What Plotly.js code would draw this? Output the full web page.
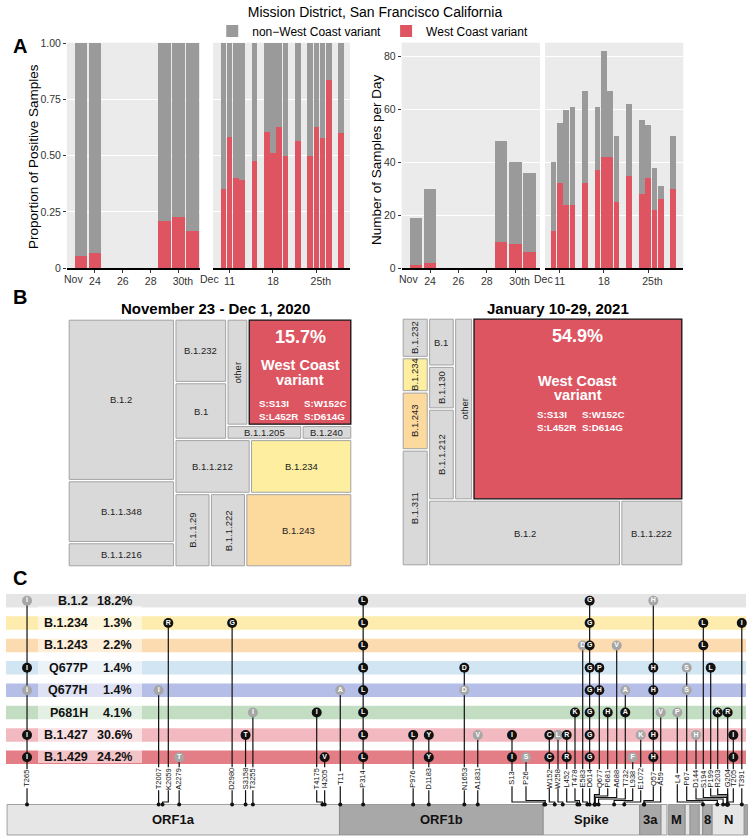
<!DOCTYPE html>
<html>
<head>
<meta charset="utf-8">
<script src="https://cdn.plot.ly/plotly-3.0.1.min.js"></script>
<style>
  body { margin: 0; background: #fff; }
  #div_plot { width: 750px; height: 838px; }
</style>
</head>
<body>
<div id="div_plot"></div>
<script>
// ---------------- panel A : samples per day ----------------
var sampleDates = ['2020-11-23','2020-11-24','2020-11-29','2020-11-30','2020-12-01',
                   '2020-12-10','2020-12-11','2020-12-12','2020-12-13','2020-12-15',
                   '2020-12-17','2020-12-18','2020-12-19','2020-12-20','2020-12-22',
                   '2020-12-24','2020-12-25','2020-12-26','2020-12-27','2020-12-29'];
var samplesTotal = [19, 30, 48, 40, 36, 40, 55, 60, 61, 67, 61, 82, 67, 50, 62, 56, 54, 38, 31, 50];
var samplesWC    = [ 1,  2, 10,  9,  6, 14, 32, 24, 24, 32, 37, 42, 42, 25, 35, 28, 34, 22, 26, 30];

// ---------------- panel B : lineage shares (%) ----------------
var novLineages = ['B.1.2','B.1.1.348','B.1.1.216','B.1.232','B.1','other','West Coast',
                   'B.1.1.205','B.1.240','B.1.1.212','B.1.234','B.1.1.29','B.1.1.222','B.1.243'];
var novPct      = [24.5, 9.4, 3.7, 4.7, 4.2, 3.2, 15.7, 1.5, 1.0, 5.8, 7.8, 3.7, 3.7, 11.1];
var janLineages = ['B.1.232','B.1.234','B.1.243','B.1.311','B.1','B.1.130','B.1.1.212',
                   'other','West Coast','B.1.2','B.1.1.222'];
var janPct      = [1.5, 1.3, 2.2, 4.4, 1.8, 1.6, 3.4, 4.8, 54.9, 18.2, 5.9];
var wcMutations = ['S:S13I','S:W152C','S:L452R','S:D614G'];

// ---------------- panel C : mutations per variant ----------------
var variantRows = ['B.1.2','B.1.234','B.1.243','Q677P','Q677H','P681H','B.1.427','B.1.429'];
var variantPct  = [18.2, 1.3, 2.2, 1.4, 1.4, 4.1, 30.6, 24.2];
var geneNames  = ['ORF1a','ORF1b','Spike','3a','E','M','6','7a','7b','8','N','10'];
var geneLabels = ['ORF1a','ORF1b','Spike','3a','','M','','','','8','N',''];
var geneStart  = [266, 13468, 21563, 25393, 26245, 26523, 27202, 27394, 27756, 27894, 28274, 29558];
var geneEnd    = [13467, 21555, 25384, 26220, 26472, 27191, 27387, 27759, 27887, 28259, 29533, 29674];
var mutGene = ['ORF1a','ORF1a','ORF1a','ORF1a','ORF1a','ORF1a','ORF1a','ORF1a','ORF1a',
               'ORF1b','ORF1b','ORF1b','ORF1b','ORF1b','ORF1b',
               'Spike','Spike','Spike','Spike','Spike','Spike','Spike','Spike','Spike','Spike','Spike','Spike','Spike','Spike',
               '3a','3a','8','N','N','N','N','N','N','N','N'];
var mutSite = ['T265','T2007','K2059','A2279','D2980','S3158','T3255','T4175','I4205',
               'T11','P314','P976','D1183','N1653','A1831',
               'S13','P26','W152','W258','L452','T478','E583','D614','Q677','P681','A688','T732','L938','E1072',
               'Q57','A59','L4','P67','D144','S194','P199','R203','G204','T205','T391'];
// one char per variant row: upper case = black call, lower case = grey call, '.' = none
var mutCalls = ['i..Ii.II','....i...','.R......','.......t','.G......','......T.','.....i..','.....I..','.......V',
                '....a...','LLLLLLLL','......L.','......YY','...Dd...','......v.',
                '......II','.......s','......CC','......l.','......RR','.....K..','..d.....','GGGGGGGG','...PH...',
                '.....H..','..v.....','....aA..','.......f','......k.',
                'h..HH.HH','.....v..','.....p..','...ss...','......h.','.LL.....','...L....','.....K..','.....R..',
                '......II','.I......'];
// genome coordinate where the label column sits (null = same as the site)
var mutLabelAt = [null,null,6670,null,null,null,null,12563,null,
                  null,null,null,null,null,null,
                  20319,20875,21801,22146,22492,22821,23127,null,23786,24120,24477,24819,25113,25431,
                  25931,26225,26884,27257,27627,27917,28210,28488,null,29108,null];

// ---------------- helpers ----------------
var W = 750, H = 838;
var FONT = 'Liberation Sans, Arial, sans-serif';
var NARROW = 'Liberation Sans Narrow, Arial Narrow, Liberation Sans, sans-serif';
var RED = '#df5461', GREY = '#9a9a9a';
var DAY = 86400000;
function px(x){ return x / W; }
function py(y){ return 1 - y / H; }

var traces = [];
var shapes = [];
var annotations = [];

function ann(text, x, y, opt){
   var a = {text: text, x: x, y: y, xref: 'paper', yref: 'paper', showarrow: false,
            xanchor: 'center', yanchor: 'middle',
            font: {family: FONT, size: 12, color: '#000'}};
   for (var k in opt) a[k] = opt[k];
   return a;
}

// ---------------- panel A ----------------
function facetIdx(f){
   var out = [];
   sampleDates.forEach(function(d, i){ if ((d < '2020-12-05') === (f === 1)) out.push(i); });
   return out;
}
function sel(arr, idx){ return idx.map(function(i){ return arr[i]; }); }

var propWC = samplesWC.map(function(v, i){ return v / samplesTotal[i]; });
var propOther = propWC.map(function(v){ return 1 - v; });
var countOther = samplesTotal.map(function(v, i){ return v - samplesWC[i]; });

function addBars(xa, ya, idx, redVals, greyVals, first){
   var x = sel(sampleDates, idx);
   traces.push({type: 'bar', x: x, y: sel(redVals, idx), xaxis: xa, yaxis: ya, width: 0.9 * DAY,
      marker: {color: RED, line: {width: 0}}, name: 'West Coast variant', legendrank: 2,
      showlegend: first, hovertemplate: '%{x|%b %d}: %{y}<extra>West Coast</extra>'});
   traces.push({type: 'bar', x: x, y: sel(greyVals, idx), xaxis: xa, yaxis: ya, width: 0.9 * DAY,
      marker: {color: GREY, line: {width: 0}}, name: 'non\u2212West Coast variant', legendrank: 1,
      showlegend: first, hovertemplate: '%{x|%b %d}: %{y}<extra>other</extra>'});
}
addBars('x', 'y', facetIdx(1), propWC, propOther, true);
addBars('x2', 'y', facetIdx(2), propWC, propOther, false);
addBars('x3', 'y2', facetIdx(1), samplesWC, countOther, false);
addBars('x4', 'y2', facetIdx(2), samplesWC, countOther, false);

[['x','y'],['x2','y'],['x3','y2'],['x4','y2']].forEach(function(p){
   shapes.push({type: 'rect', xref: p[0] + ' domain', yref: p[1] + ' domain', x0: 0, x1: 1, y0: 0, y1: 1,
                fillcolor: '#ebebeb', line: {width: 0}, layer: 'below'});
});

var tickFont = {family: FONT, size: 10.5, color: '#333'};
function dateAxis(dom, anchor, range, vals, text){
   return {domain: dom, anchor: anchor, type: 'date', range: range, tickvals: vals, ticktext: text,
           ticks: 'outside', ticklen: 3, tickcolor: '#333', showline: true, linecolor: '#000',
           linewidth: 1.5, showgrid: false, zeroline: false, tickfont: tickFont, fixedrange: true};
}
var novTicks = ['2020-11-24','2020-11-26','2020-11-28','2020-11-30'];
var novText = ['24','26','28','\u00a0\u00a0\u00a030th'];
var decTicks = ['2020-12-11','2020-12-18','2020-12-25'];
var decText = ['11','18','\u00a0\u00a0\u00a025th'];

annotations.push(ann('Nov', px(73), py(279), {font: tickFont}));
annotations.push(ann('Dec', px(209), py(279), {font: tickFont}));
annotations.push(ann('Nov', px(408), py(279), {font: tickFont}));
annotations.push(ann('Dec', px(543), py(279), {font: tickFont}));
annotations.push(ann('Proportion of Positive Samples', px(33), py(157), {textangle: -90, font: {family: FONT, size: 13.5, color: '#000'}}));
annotations.push(ann('Number of Samples per Day', px(377), py(160), {textangle: -90, font: {family: FONT, size: 13.5, color: '#000'}}));
annotations.push(ann('<b>A</b>', px(20), py(46), {font: {family: FONT, size: 20, color: '#000'}}));
annotations.push(ann('<b>B</b>', px(20), py(297), {font: {family: FONT, size: 20, color: '#000'}}));
annotations.push(ann('<b>C</b>', px(20), py(578), {font: {family: FONT, size: 20, color: '#000'}}));

// ---------------- panel B ----------------
function total(node, vals){
   if (typeof node === 'string') return vals[node];
   return node.reduce(function(a, c){ return a + total(c, vals); }, 0);
}
function sliceDice(node, vals, x0, y0, x1, y1, depth, out){
   if (typeof node === 'string'){ out.push({name: node, x0: x0, y0: y0, x1: x1, y1: y1}); return; }
   var sums = node.map(function(c){ return total(c, vals); });
   var sum = sums.reduce(function(a, b){ return a + b; }, 0);
   var pos = depth % 2 === 0 ? x0 : y0;
   node.forEach(function(c, i){
      var f = sums[i] / sum;
      if (depth % 2 === 0){ var w = (x1 - x0) * f; sliceDice(c, vals, pos, y0, pos + w, y1, depth + 1, out); pos += w; }
      else { var h = (y1 - y0) * f; sliceDice(c, vals, x0, pos, x1, pos + h, depth + 1, out); pos += h; }
   });
}
function cellColor(name){
   if (name === 'West Coast') return '#dc5561';
   if (name === 'B.1.234') return '#fdef9f';
   if (name === 'B.1.243') return '#fcd99d';
   return '#d9d9d9';
}

function drawTreemap(names, pcts, tree, xa, ya, boxW, boxH, titleShift, mutShift){
   var vals = {};
   names.forEach(function(n, i){ vals[n] = pcts[i]; });
   var cells = [];
   sliceDice(tree, vals, 0, 0, 1, 1, 0, cells);
   var gx = 1.2 / boxW, gy = 1.2 / boxH;
   var hx = [], hy = [], ht = [];
   cells.forEach(function(c){
      var wc = c.name === 'West Coast';
      shapes.push({type: 'rect', xref: xa, yref: ya, x0: c.x0 + gx, x1: c.x1 - gx, y0: c.y0 + gy, y1: c.y1 - gy,
                   fillcolor: cellColor(c.name), line: {color: wc ? '#111' : '#a3a3a3', width: wc ? 1.3 : 1}});
      var cx = (c.x0 + c.x1) / 2, cyy = (c.y0 + c.y1) / 2;
      hx.push(cx); hy.push(cyy); ht.push(c.name + ': ' + vals[c.name] + '%');
      var base = {xref: xa, yref: ya, showarrow: false, xanchor: 'center', yanchor: 'middle'};
      if (wc){
         var white = function(size){ return {family: FONT, size: size, color: '#fff'}; };
         annotations.push(Object.assign({}, base, {x: cx, y: c.y0, yshift: -18, text: '<b>' + vals[c.name].toFixed(1) + '%</b>', font: white(18)}));
         annotations.push(Object.assign({}, base, {x: cx, y: cyy, yshift: titleShift + 7, text: '<b>West Coast</b>', font: white(14.5), borderpad: 0}));
         annotations.push(Object.assign({}, base, {x: cx, y: cyy, yshift: titleShift - 7.5, text: '<b>variant</b>', font: white(14.5), borderpad: 0}));
         annotations.push(Object.assign({}, base, {x: cx, y: cyy, yshift: mutShift, xshift: -43, xanchor: 'left', align: 'left',
            text: '<b>' + wcMutations[0] + '<br>' + wcMutations[2] + '</b>', font: white(9.8)}));
         annotations.push(Object.assign({}, base, {x: cx, y: cyy, yshift: mutShift, xshift: 2, xanchor: 'left', align: 'left',
            text: '<b>' + wcMutations[1] + '<br>' + wcMutations[3] + '</b>', font: white(9.8)}));
      } else {
         var wpx = (c.x1 - c.x0) * boxW, hpx = (c.y1 - c.y0) * boxH;
         var rot = wpx < c.name.length * 4.3 + 6 && hpx > wpx;
         annotations.push(Object.assign({}, base, {x: cx, y: cyy, text: c.name, textangle: rot ? -90 : 0,
            font: {family: NARROW, size: 9.5, color: '#222'}}));
      }
   });
   traces.push({type: 'scatter', mode: 'markers', x: hx, y: hy, text: ht, xaxis: xa, yaxis: ya,
                marker: {opacity: 0, size: 20}, hovertemplate: '%{text}<extra></extra>', showlegend: false});
}

var novTree = [['B.1.2','B.1.1.348','B.1.1.216'],
               [[['B.1.232','B.1'], [['other','West Coast'], ['B.1.1.205','B.1.240']]],
                ['B.1.1.212','B.1.234'],
                ['B.1.1.29','B.1.1.222','B.1.243']]];
var janTree = [['B.1.232','B.1.234','B.1.243','B.1.311'],
               [[['B.1','B.1.130','B.1.1.212'], 'other', 'West Coast'],
                ['B.1.2','B.1.1.222']]];
drawTreemap(novLineages, novPct, novTree, 'x5', 'y3', 284, 248, 0, -38);
drawTreemap(janLineages, janPct, janTree, 'x6', 'y4', 281, 248, 21.5, -12);
annotations.push(ann('<b>November 23 - Dec 1, 2020</b>', px(215), py(308), {font: {family: FONT, size: 15, color: '#000'}}));
annotations.push(ann('<b>January 10-29, 2021</b>', px(558), py(308), {font: {family: FONT, size: 15, color: '#000'}}));

// ---------------- panel C ----------------
function cy(p){ return 1 + (p - 600.7) / 22.37; }   // pixel row -> row units
var LABEL_Y = cy(778.7), BAR_TOP = cy(804.5), BAR_BOT = cy(835);
var rowColors = ['#e5e5e5','#fdecae','#fcdbb0','#d2e5f2','#b5bee6','#c3ddc3','#f2bac0','#e37d86'];

variantRows.forEach(function(r, i){
   shapes.push({type: 'rect', xref: 'paper', yref: 'y5', x0: px(6), x1: px(746), y0: i + 1 - 0.3, y1: i + 1 + 0.3,
                fillcolor: rowColors[i], line: {width: 0}, layer: 'below'});
});
shapes.push({type: 'rect', xref: 'paper', yref: 'y5', x0: px(38), x1: px(142), y0: cy(606), y1: cy(763),
             fillcolor: 'rgba(255,255,255,0.55)', line: {width: 0}, layer: 'below'});
variantRows.forEach(function(r, i){
   var f = {family: FONT, size: 12.5, color: '#111'};
   annotations.push({text: '<b>' + r + '</b>', x: px(90), y: i + 1, xref: 'paper', yref: 'y5', xanchor: 'right', yanchor: 'middle', showarrow: false, font: f});
   annotations.push({text: '<b>' + variantPct[i].toFixed(1) + '%</b>', x: px(134), y: i + 1, xref: 'paper', yref: 'y5', xanchor: 'right', yanchor: 'middle', showarrow: false, font: f});
});

geneNames.forEach(function(g, i){
   shapes.push({type: 'rect', xref: 'x7', yref: 'y5', x0: geneStart[i], x1: geneEnd[i], y0: BAR_TOP, y1: BAR_BOT,
                fillcolor: i % 2 === 0 ? '#e6e6e6' : '#a8a8a8', line: {color: '#8c8c8c', width: 0.8}, layer: 'below'});
   if (geneLabels[i]) annotations.push({text: '<b>' + geneLabels[i] + '</b>', x: (geneStart[i] + geneEnd[i]) / 2,
      y: (BAR_TOP + BAR_BOT) / 2, xref: 'x7', yref: 'y5', showarrow: false, font: {family: FONT, size: 13, color: '#111'}});
});

var muts = mutSite.map(function(s, i){
   var g = geneStart[geneNames.indexOf(mutGene[i])] + (parseInt(s.slice(1), 10) - 1) * 3 + 1;
   return {site: s, g: g, c: mutLabelAt[i] === null ? g : mutLabelAt[i], calls: mutCalls[i], level: 0};
});
// stack the elbows so connectors do not cross
var lefts = muts.filter(function(m){ return m.c < m.g; }).sort(function(a, b){ return a.c - b.c; });
lefts.forEach(function(m, i){
   for (var j = 0; j < i; j++) if (lefts[j].g > m.c) m.level = Math.max(m.level, lefts[j].level + 1);
});
var rights = muts.filter(function(m){ return m.c > m.g; }).sort(function(a, b){ return b.c - a.c; });
rights.forEach(function(m, i){
   for (var j = 0; j < i; j++) if (rights[j].g < m.c) m.level = Math.max(m.level, rights[j].level + 1);
});

var lx = [], ly = [], bx = [], by = [], bt = [], gx = [], gyy = [], gt = [], dx = [], dy = [];
muts.forEach(function(m){
   var top = 99;
   for (var r = 0; r < 8; r++){
      var ch = m.calls[r];
      if (ch === '.') continue;
      if (r + 1 < top) top = r + 1;
      if (ch === ch.toUpperCase()){ bx.push(m.c); by.push(r + 1); bt.push(ch); }
      else { gx.push(m.c); gyy.push(r + 1); gt.push(ch.toUpperCase()); }
   }
   var half = (m.site.length * 0.53 * 7.5 / 2 + 1.5) / 22.37;
   var elbow = cy(802 - m.level * 1.5);
   lx.push(m.c, m.c, null); ly.push(top, LABEL_Y - half, null);
   lx.push(m.c, m.c, m.g, m.g, null); ly.push(LABEL_Y + half, elbow, elbow, BAR_TOP, null);
   dx.push(m.g); dy.push(BAR_TOP);
   annotations.push({text: m.site, x: m.c, y: LABEL_Y, xref: 'x7', yref: 'y5', textangle: -90, showarrow: false,
                     xanchor: 'center', yanchor: 'middle', font: {family: FONT, size: 7.5, color: '#111'}});
});
traces.push({type: 'scatter', mode: 'lines', x: lx, y: ly, xaxis: 'x7', yaxis: 'y5', line: {color: '#111', width: 1.2},
             hoverinfo: 'skip', showlegend: false});
traces.push({type: 'scatter', mode: 'markers', x: dx, y: dy, xaxis: 'x7', yaxis: 'y5', marker: {color: '#111', size: 4},
             hoverinfo: 'skip', showlegend: false});
traces.push({type: 'scatter', mode: 'markers+text', x: gx, y: gyy, text: gt, xaxis: 'x7', yaxis: 'y5',
             marker: {color: '#a6a6a6', size: 10, line: {width: 0}}, textposition: 'middle center',
             textfont: {family: FONT, size: 7, color: '#fff', weight: 'bold'}, hoverinfo: 'skip', showlegend: false});
traces.push({type: 'scatter', mode: 'markers+text', x: bx, y: by, text: bt, xaxis: 'x7', yaxis: 'y5',
             marker: {color: '#111', size: 10, line: {width: 0}}, textposition: 'middle center',
             textfont: {family: FONT, size: 7, color: '#fff', weight: 'bold'}, hoverinfo: 'skip', showlegend: false});

// ---------------- layout ----------------
var hidden = {visible: false, fixedrange: true};
var layout = {
   width: W, height: H,
   margin: {l: 0, r: 0, t: 0, b: 0},
   paper_bgcolor: '#fff', plot_bgcolor: 'rgba(0,0,0,0)',
   font: {family: FONT, color: '#000'},
   title: {text: 'Mission District, San Francisco California', x: 0.5, xanchor: 'center', y: py(12), yanchor: 'middle',
           font: {family: FONT, size: 14, color: '#000'}},
   showlegend: true,
   legend: {orientation: 'h', x: 0.497, xanchor: 'center', y: py(31), yanchor: 'middle', itemwidth: 30,
            traceorder: 'normal', font: {family: FONT, size: 12, color: '#000'}, bgcolor: 'rgba(0,0,0,0)'},
   barmode: 'stack',
   hovermode: 'closest',
   xaxis: dateAxis([px(67), px(200)], 'y', ['2020-11-22', '2020-12-01 13:00'], novTicks, novText),
   xaxis2: dateAxis([px(213), px(350)], 'y', ['2020-12-08 08:00', '2020-12-30 10:00'], decTicks, decText),
   xaxis3: dateAxis([px(401.7), px(540)], 'y2', ['2020-11-22', '2020-12-01 18:00'], novTicks, novText),
   xaxis4: dateAxis([px(545), px(683.3)], 'y2', ['2020-12-08 16:00', '2020-12-30 14:00'], decTicks, decText),
   yaxis: {domain: [py(268), py(42.7)], anchor: 'x', range: [0, 1.003], tickvals: [0, 0.25, 0.5, 0.75, 1],
           ticktext: ['0', '0.25', '0.50', '0.75', '1.00'], gridcolor: '#fff', gridwidth: 1.3, zeroline: false,
           ticks: 'outside', ticklen: 3, tickcolor: '#333', tickfont: tickFont, fixedrange: true},
   yaxis2: {domain: [py(268), py(42.7)], anchor: 'x3', range: [0, 85.3], tickvals: [0, 20, 40, 60, 80],
            gridcolor: '#fff', gridwidth: 1.3, zeroline: false, ticks: 'outside', ticklen: 3, tickcolor: '#333',
            tickfont: tickFont, fixedrange: true},
   xaxis5: Object.assign({domain: [px(68), px(352)], anchor: 'y3', range: [0, 1]}, hidden),
   yaxis3: Object.assign({domain: [py(567), py(319)], anchor: 'x5', range: [1, 0]}, hidden),
   xaxis6: Object.assign({domain: [px(402), px(683)], anchor: 'y4', range: [0, 1]}, hidden),
   yaxis4: Object.assign({domain: [py(566), py(318)], anchor: 'x6', range: [1, 0]}, hidden),
   xaxis7: Object.assign({domain: [0, 1], anchor: 'y5', range: [-14.3, 29771]}, hidden),
   yaxis5: Object.assign({domain: [0, py(588)], anchor: 'x7', range: [cy(838), cy(588)]}, hidden),
   shapes: shapes,
   annotations: annotations
};

var config = {responsive: false, displayModeBar: false};
Plotly.newPlot('div_plot', traces, layout, config);
</script>
</body>
</html>
